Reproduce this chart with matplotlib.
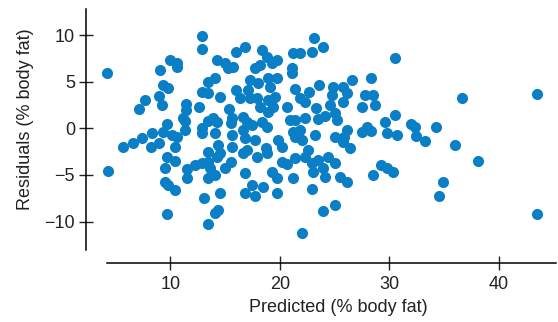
import matplotlib
matplotlib.use("Agg")
import matplotlib.pyplot as plt

predicted = [
    4.2, 4.3, 5.7, 6.6, 7.4, 8.3, 8.2, 9.0, 7.7, 7.1,
    9.0, 9.2, 9.3, 9.8, 9.1, 10.0, 10.6, 10.6, 12.9, 12.9,
    11.4, 11.4, 11.2, 12.6, 13.4, 14.1, 12.9, 13.4, 14.5, 15.4,
    16.0, 16.8, 14.3, 15.0, 15.3, 15.7, 16.0, 16.4, 17.3, 16.6,
    15.6, 13.9, 13.4,
    9.7, 11.3, 11.3, 12.9, 12.9, 14.1, 14.3, 15.5, 15.6, 16.6,
    16.8, 9.3, 10.2, 10.6, 10.4, 9.7, 9.5, 10.4, 11.5, 11.5,
    12.3, 12.9, 13.4, 13.4, 13.6, 13.4, 14.1, 14.4, 14.5, 15.0,
    15.6, 15.5, 16.6, 17.0, 16.8, 16.8, 9.5, 9.8, 10.4, 13.1,
    14.5, 9.7, 14.1, 14.4, 13.4, 14.3,
    23.1, 23.9, 22.9, 21.2, 21.8, 30.5, 18.4, 18.8, 19.7, 19.3,
    17.7, 18.2, 21.1, 21.1, 18.0, 18.9, 19.7, 19.1, 17.1, 17.3,
    17.9, 18.9, 19.6, 19.4, 18.9, 18.2, 20.7, 21.4, 21.8, 22.3,
    22.7, 23.6, 23.3, 24.9, 24.8, 24.6, 25.0, 25.8, 26.1, 26.6,
    25.8, 25.2, 24.1, 23.5, 22.3, 21.4, 20.9, 21.8, 21.2, 23.2,
    28.3, 27.8, 28.5, 28.7, 27.5, 29.6, 30.5, 28.0, 27.5, 26.1,
    25.9, 29.8, 30.7, 17.5, 18.4, 18.8, 19.8, 17.7, 17.0,
    25.8, 26.4, 28.3, 25.0,
    18.7, 20.2, 17.9, 18.8, 21.4, 22.0, 22.6, 20.2, 20.7, 21.4,
    22.3, 22.9, 23.5, 24.4, 25.0, 23.9, 23.0, 24.1, 25.5, 26.1,
    28.5, 29.2, 29.8, 30.3, 19.3, 19.7, 21.2, 17.5, 17.7, 18.5,
    19.7, 22.9, 23.9, 25.0, 22.0,
    32.0, 32.3, 32.4, 33.3, 34.3, 36.0, 38.1, 34.9, 34.5, 36.6,
    43.5, 43.5,
]

residuals = [
    5.9, -4.6, -2.0, -1.6, -1.0, -0.5, -2.0, -1.6, 3.0, 2.1,
    3.5, 2.5, 4.6, 4.3, 6.2, 7.3, 7.0, 6.6, 9.9, 8.5,
    2.6, 2.0, 1.1, 2.3, 5.0, 5.4, 3.9, 3.8, 3.4, 2.1,
    8.2, 8.7, 7.3, 7.0, 6.5, 6.6, 4.1, 3.2, 5.2, 1.2,
    1.1, 1.1, 0.8,
    0.5, 0.8, -0.2, 0.0, -0.5, -0.5, 0.7, 0.6, -0.7, -0.2,
    -1.0, -0.4, -0.7, -0.9, -2.0, -3.1, -4.2, -3.5, -4.4, -5.3,
    -3.9, -3.7, -2.5, -3.6, -4.2, -5.3, -5.0, -1.8, -2.6, -4.2,
    -2.0, -3.6, -2.6, -2.3, -4.8, -6.9, -5.8, -6.1, -6.6, -7.5,
    -6.9, -9.2, -9.1, -8.7, -10.3, -3.1,
    9.7, 8.7, 8.2, 8.1, 8.1, 7.5, 8.4, 7.6, 7.3, 7.0,
    6.5, 6.8, 6.5, 5.9, 4.9, 5.4, 5.4, 4.4, 4.1, 3.2,
    3.2, 3.0, 3.4, 2.3, 1.7, 2.3, 2.3, 4.2, 3.2, 2.8,
    3.9, 4.6, 2.2, 4.4, 3.6, 2.5, 1.6, 4.4, 3.8, 5.2,
    2.8, 0.9, 1.3, 1.0, 1.1, 0.9, 0.9, -0.2, -0.4, -0.7,
    5.4, 3.6, 3.6, 2.5, 2.3, 0.7, 1.4, 0.1, -0.4, -0.2,
    -0.9, -0.5, -0.7, 0.4, 0.7, 0.1, -1.3, -1.3, 0.7,
    -1.5, -2.1, -0.3, -0.9,
    -2.1, -2.0, -3.1, -2.6, -0.9, -1.3, -2.3, -3.6, -3.8, -3.2,
    -3.1, -3.7, -3.4, -3.1, -3.7, -4.3, -4.7, -5.2, -5.2, -5.8,
    -5.0, -3.9, -4.3, -4.7, -4.7, -5.3, -5.3, -6.1, -7.3, -6.3,
    -6.9, -6.5, -8.9, -8.2, -11.2,
    0.5, 0.1, -0.8, -1.4, 0.1, -1.8, -3.5, -5.8, -7.2, 3.2,
    3.7, -9.2,
]

x_ticks = [10, 20, 30, 40]
y_ticks = [-10, -5, 0, 5, 10]
x_label = "Predicted (% body fat)"
y_label = "Residuals (% body fat)"

plt.rcParams['font.family'] = ['Liberation Sans Narrow', 'Liberation Sans', 'DejaVu Sans']

fig = plt.figure(figsize=(5.58, 3.22), dpi=100)
ax = fig.add_axes([100 / 558, 72 / 322, 456 / 558, 241 / 322])

ax.scatter(predicted, residuals, s=64, color='#0a7fc6', linewidths=0, zorder=3)

ax.set_xlim(3.58, 45.22)
ax.set_ylim(-13.04, 12.79)

for s in ['top', 'right']:
    ax.spines[s].set_visible(False)
ax.spines['left'].set_position(('outward', 10))
ax.spines['bottom'].set_position(('outward', 9.4))
ax.spines['bottom'].set_bounds(4.2, 45.22)
for s in ['left', 'bottom']:
    ax.spines[s].set_linewidth(1.1)

ax.set_xticks(x_ticks)
ax.set_yticks(y_ticks)
ax.set_yticklabels(['\u221210', '\u22125', '0', '5', '10'])
ax.tick_params(direction='inout', length=10, width=1.0, labelsize=13, pad=4, colors='#222222')
ax.tick_params(axis='y', pad=3)

ax.set_xlabel(x_label, fontsize=13, color='#222222')
ax.set_ylabel(y_label, fontsize=13, color='#222222')
ax.xaxis.set_label_coords(0.522, -0.205)
ax.yaxis.set_label_coords(-0.145, 0.541)

fig.savefig('out.png', dpi=100)
